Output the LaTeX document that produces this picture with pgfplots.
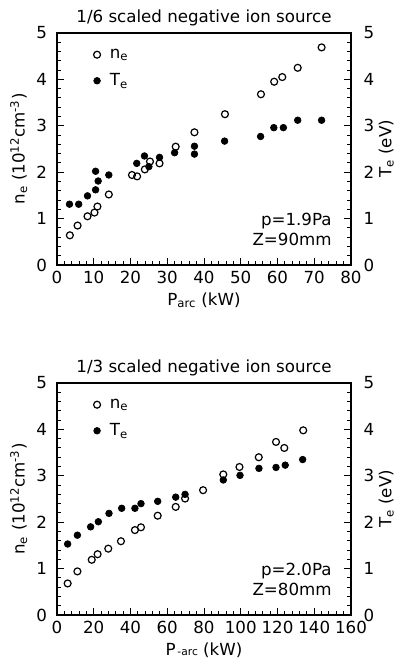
\documentclass[border=0pt]{standalone}
\usepackage{pgfplots}
\pgfplotsset{compat=1.18}
\usepackage{fontspec}
\setmainfont{DejaVu Sans}
\newcommand{\fs}{\fontsize{12.5}{14}\selectfont}
\newcommand{\ft}{\fontsize{12.5}{14}\selectfont}
\pgfplotsset{
  common/.style={
    scale only axis, width=220.5pt, height=174pt, anchor=south west,
    ymin=0, ymax=5, ytick={0,1,2,3,4,5}, minor y tick num=4,
    tick align=inside, major tick length=5pt, minor tick length=3pt,
    every tick/.style={black, line width=0.7pt},
    axis line style={line width=0.9pt},
    /pgf/number format/assume math mode=true,
    tick label style={font=\fs},
    label style={font=\fs},
  },
  mainax/.style={common, xtick pos=left, ytick pos=left, minor x tick num=4,
    yticklabel style={xshift=-4pt},
    xticklabel style={yshift=-1pt},
    legend style={draw=none, fill=none, font=\fs, at={(axis description cs:0.11,0.955)}, anchor=north west, row sep=6pt},
    legend cell align=left,
  },
  rightax/.style={common, hide x axis, axis y line*=right, ytick pos=right, yticklabel pos=right,
    yticklabel style={xshift=6pt},
    ylabel style={at={(axis description cs:1.12,0.5)}, anchor=center}},
  ne/.style={only marks, mark=o, mark size=2.6pt, line width=0.9pt, black},
  te/.style={only marks, mark=*, mark size=2.5pt, line width=0.5pt, black},
}
\begin{document}
\begin{tikzpicture}
\useasboundingbox (0,0) rectangle (298.5pt,495.75pt);
% ---------- top panel ----------
\begin{axis}[mainax, at={(42.75pt,297pt)}, xmin=0, xmax=80, xtick={0,10,...,80},
  title={1/6 scaled negative ion source}, title style={font=\ft, yshift=-4pt},
  xlabel={P\textsubscript{arc} (kW)},
  ylabel={n\textsubscript{e} (10\textsuperscript{12}cm\textsuperscript{-3})}]
\addplot[ne] coordinates {
(3.5,0.64) (5.6,0.85) (8.3,1.05) (10.2,1.13) (11.0,1.26) (14.1,1.52)
(20.4,1.94) (21.8,1.91) (23.9,2.06) (25.3,2.23) (27.9,2.19) (32.3,2.55)
(37.4,2.86) (45.7,3.25) (55.5,3.68) (59.1,3.95) (61.3,4.05) (65.5,4.25) (72.0,4.69)};
\addlegendentry{\hspace{5pt}n\textsubscript{e}}
\addplot[te] coordinates {
(3.4,1.31) (5.9,1.31) (8.3,1.49) (10.5,2.02) (10.5,1.62) (11.2,1.81) (14.1,1.94)
(21.7,2.19) (23.8,2.35) (25.0,2.12) (27.9,2.32) (32.0,2.42) (37.4,2.56) (37.4,2.39)
(45.6,2.67) (55.4,2.77) (59.0,2.96) (61.6,2.96) (65.5,3.12) (72.0,3.12)};
\addlegendentry{\hspace{5pt}T\textsubscript{e}}
\node[anchor=east, font=\fs] at (axis description cs:0.95,0.19) {p=1.9Pa};
\node[anchor=east, font=\fs] at (axis description cs:0.95,0.11) {Z=90mm};
\end{axis}
\begin{axis}[rightax, at={(42.75pt,297pt)}, xmin=0, xmax=80,
  ylabel={T\textsubscript{e} (eV)}]
\end{axis}
% ---------- bottom panel ----------
\begin{axis}[mainax, at={(42.75pt,34.5pt)}, xmin=0, xmax=160, xtick={0,20,...,160},
  title={1/3 scaled negative ion source}, title style={font=\ft, yshift=-4pt},
  xlabel={P{\footnotesize\,-arc} (kW)},
  ylabel={n\textsubscript{e} (10\textsuperscript{12}cm\textsuperscript{-3})}]
\addplot[ne] coordinates {
(5.8,0.68) (11.1,0.94) (18.9,1.19) (22.1,1.31) (27.9,1.43) (34.8,1.59)
(42.4,1.83) (45.7,1.89) (54.8,2.14) (64.6,2.33) (69.7,2.51) (79.5,2.69)
(90.5,3.03) (99.3,3.19) (109.8,3.40) (119.2,3.73) (123.7,3.60) (134.0,3.98)};
\addlegendentry{\hspace{5pt}n\textsubscript{e}}
\addplot[te] coordinates {
(5.8,1.53) (11.1,1.72) (18.3,1.90) (22.5,2.01) (28.3,2.19) (35.2,2.30)
(42.4,2.30) (45.7,2.40) (54.8,2.45) (64.6,2.54) (69.7,2.60) (90.5,2.91)
(99.6,3.01) (109.9,3.16) (119.2,3.18) (124.2,3.23) (133.7,3.35)};
\addlegendentry{\hspace{5pt}T\textsubscript{e}}
\node[anchor=east, font=\fs] at (axis description cs:0.95,0.19) {p=2.0Pa};
\node[anchor=east, font=\fs] at (axis description cs:0.95,0.11) {Z=80mm};
\end{axis}
\begin{axis}[rightax, at={(42.75pt,34.5pt)}, xmin=0, xmax=160,
  ylabel={T\textsubscript{e} (eV)}]
\end{axis}
\end{tikzpicture}
\end{document}
